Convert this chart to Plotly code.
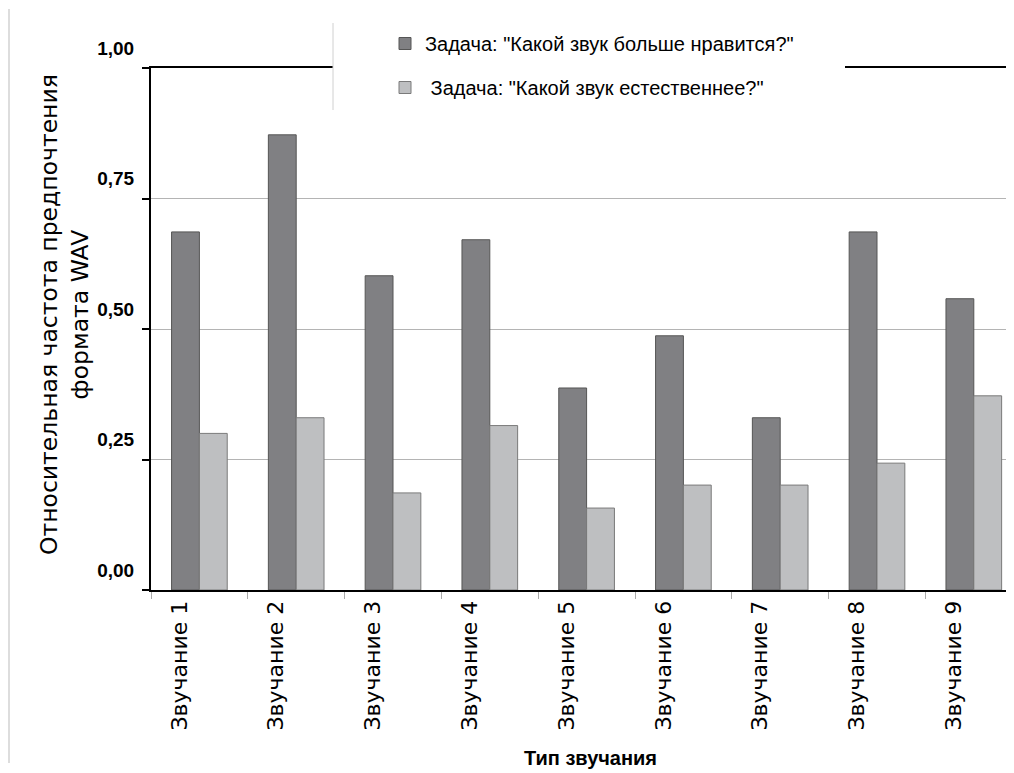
import plotly.graph_objects as go

# ---- data ----
categories = ["Звучание 1", "Звучание 2", "Звучание 3", "Звучание 4", "Звучание 5",
              "Звучание 6", "Звучание 7", "Звучание 8", "Звучание 9"]
like_values = [0.686, 0.872, 0.602, 0.671, 0.387, 0.487, 0.330, 0.686, 0.558]
natural_values = [0.300, 0.330, 0.186, 0.315, 0.157, 0.201, 0.201, 0.243, 0.372]
series_names = ['Задача: "Какой звук больше нравится?"', ' Задача: "Какой звук естественнее?"']
y_ticks = [0, 0.25, 0.5, 0.75, 1.0]
y_title = "Относительная частота предпочтения<br>формата WAV"
x_title = "Тип звучания"

# ---- layout geometry (page pixels; the page body has an 8px margin) ----
OFF = 8
PAGE_W, PAGE_H = 1014, 773
W, H = PAGE_W - OFF, PAGE_H - OFF
PLOT_L, PLOT_R, PLOT_T, PLOT_B = 151, 1014, 68, 590   # page pixels
L, T = PLOT_L - OFF, PLOT_T - OFF
R, B = 0, H - (PLOT_B - OFF)
PW, PH = W - L - R, H - T - B
CAT_PX = 96.8

def px_x(px):
    return (px - PLOT_L) / PW

def px_y(py):
    return (PLOT_B - py) / PH

FONT = "Liberation Sans, Arial, sans-serif"
WIDE = "DejaVu Sans, Verdana, sans-serif"

fig = go.Figure()
fig.add_trace(go.Bar(
    x=categories, y=like_values, name=series_names[0], legendgroup="a",
    marker=dict(color="#808083", line=dict(color="#555555", width=1)),
))
fig.add_trace(go.Bar(
    x=categories, y=natural_values, name=series_names[1], legendgroup="b",
    marker=dict(color="#bebfc1", line=dict(color="#7a7a7a", width=1)),
))

fig.update_layout(
    width=W, height=H,
    margin=dict(l=L, r=R, t=T, b=B, pad=0),
    paper_bgcolor="white", plot_bgcolor="white",
    separators=", ",
    barmode="group", bargap=0.425, bargroupgap=0,
    font=dict(family=FONT, color="black"),
    showlegend=True,
    legend=dict(
        x=px_x(385), y=px_y(24), xanchor="left", yanchor="top",
        bgcolor="rgba(0,0,0,0)", borderwidth=0,
        font=dict(family=FONT, size=20, color="black"),
        tracegroupgap=15, traceorder="grouped",
    ),
    xaxis=dict(
        type="category",
        range=[-0.5, -0.5 + PW / CAT_PX],
        showline=True, linecolor="black", linewidth=2, mirror=True,
        ticks="outside", tickson="boundaries", ticklen=7, tickwidth=1, tickcolor="#aaaaaa",
        tickangle=-90, ticklabelshift=-20,
        tickfont=dict(family=WIDE, size=22, color="black"),
        showgrid=False, zeroline=False,
    ),
    yaxis=dict(
        range=[0, 1],
        tickvals=y_ticks, tickformat=".2f",
        showline=True, linecolor="black", linewidth=2,
        ticks="outside", ticklen=7, tickwidth=2, tickcolor="black",
        ticklabelshift=-20, ticklabelstandoff=4,
        tickfont=dict(family=FONT, size=19, color="black", weight="bold"),
        showgrid=True, gridcolor="#b4b4b4", gridwidth=1,
        zeroline=False,
    ),
    shapes=[
        # legend box covering the top frame line
        dict(type="rect", xref="paper", yref="paper", layer="above",
             x0=px_x(333), x1=px_x(845), y0=px_y(110), y1=px_y(23),
             fillcolor="white", line=dict(width=0)),
        dict(type="line", xref="paper", yref="paper", layer="above",
             x0=px_x(333), x1=px_x(333), y0=px_y(110), y1=px_y(23),
             line=dict(color="#d0d0d0", width=1)),
        # page border line on the left
        dict(type="line", xref="paper", yref="paper", layer="above",
             x0=px_x(9), x1=px_x(9), y0=px_y(763), y1=px_y(9),
             line=dict(color="#dddddd", width=2)),
    ],
    annotations=[
        dict(text=y_title, xref="paper", yref="paper", x=px_x(64), y=px_y(315),
             showarrow=False, textangle=-90, xanchor="center", yanchor="middle",
             font=dict(family=WIDE, size=23.5, color="black")),
        dict(text=x_title, xref="paper", yref="paper", x=px_x(590), y=px_y(758),
             showarrow=False, xanchor="center", yanchor="middle",
             font=dict(family=FONT, size=20, color="black", weight="bold")),
    ],
)

fig.write_html("out.html")
